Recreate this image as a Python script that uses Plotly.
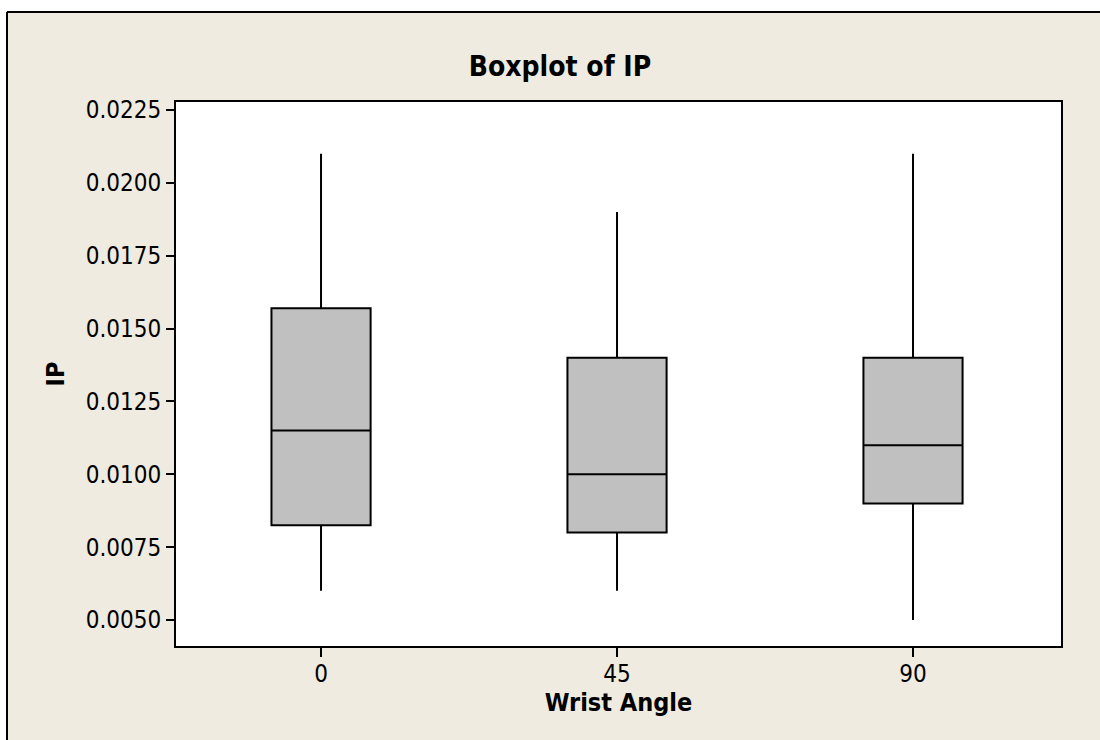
import plotly.graph_objects as go

# Wrist angle groups and their box summary statistics for IP
categories = ["0", "45", "90"]
upper_whisker = [0.0210, 0.0190, 0.0210]
q3_values = [0.0157, 0.0140, 0.0140]
median_values = [0.0115, 0.0100, 0.0110]
q1_values = [0.00825, 0.0080, 0.0090]
lower_whisker = [0.0060, 0.0060, 0.0050]

y_ticks = [0.0050, 0.0075, 0.0100, 0.0125, 0.0150, 0.0175, 0.0200, 0.0225]

FONT = "Tahoma, 'DejaVu Sans Condensed', 'DejaVu Sans', sans-serif"
BEIGE = "#EFEBE1"

W, H = 1100, 740
ML, MR, MT, MB = 176, 39, 102, 94
PW, PH = W - ML - MR, H - MT - MB


def px_x(p):
    return (p - ML) / PW


def px_y(p):
    return (H - MB - p) / PH


fig = go.Figure()
fig.add_trace(go.Box(
    x=categories,
    q1=q1_values,
    median=median_values,
    q3=q3_values,
    lowerfence=lower_whisker,
    upperfence=upper_whisker,
    fillcolor="#C0C0C0",
    line=dict(color="black", width=2),
    whiskerwidth=0,
    width=0.335,
    boxpoints=False,
    hoverinfo="skip",
    showlegend=False,
))

frame_left, frame_top = px_x(7), px_y(12)
shapes = [
    # white strip above and left of the framed panel
    dict(type="rect", xref="paper", yref="paper", x0=px_x(-5), x1=px_x(1110),
         y0=px_y(11), y1=px_y(-5), fillcolor="white", line=dict(width=0)),
    dict(type="rect", xref="paper", yref="paper", x0=px_x(-5), x1=px_x(6),
         y0=px_y(750), y1=px_y(-5), fillcolor="white", line=dict(width=0)),
    # panel frame edges
    dict(type="line", xref="paper", yref="paper", x0=frame_left, x1=px_x(1110),
         y0=frame_top, y1=frame_top, line=dict(color="black", width=2)),
    dict(type="line", xref="paper", yref="paper", x0=frame_left, x1=frame_left,
         y0=px_y(750), y1=frame_top, line=dict(color="black", width=2)),
]

fig.update_layout(
    width=W, height=H,
    margin=dict(l=ML, r=MR, t=MT, b=MB, pad=0),
    paper_bgcolor=BEIGE,
    plot_bgcolor="white",
    font=dict(family=FONT, color="black", size=24),
    title=dict(text="Boxplot of IP", x=560 / W, xref="container", xanchor="center",
               y=1 - 66 / H, yanchor="middle",
               font=dict(family=FONT, size=28, weight="bold", color="black")),
    shapes=shapes,
    xaxis=dict(
        type="category", categoryorder="array", categoryarray=categories,
        range=[-0.49, 2.5],
        showline=True, mirror=True, linecolor="black", linewidth=2,
        ticks="outside", ticklen=9, tickwidth=2, tickcolor="black",
        showgrid=False, zeroline=False,
        tickfont=dict(family=FONT, size=24),
        ticklabelstandoff=-4,
        title=dict(text="Wrist Angle", standoff=4,
                   font=dict(family=FONT, size=25, weight="bold")),
    ),
    yaxis=dict(
        range=[0.004108, 0.022774],
        tickvals=y_ticks, ticktext=[f"{v:.4f}" for v in y_ticks],
        showline=True, mirror=True, linecolor="black", linewidth=2,
        ticks="outside", ticklen=8, tickwidth=2, tickcolor="black",
        showgrid=False, zeroline=False,
        tickfont=dict(family=FONT, size=24),
        title=dict(text="IP", standoff=14,
                   font=dict(family=FONT, size=25, weight="bold")),
    ),
)

fig.write_html("out.html")
